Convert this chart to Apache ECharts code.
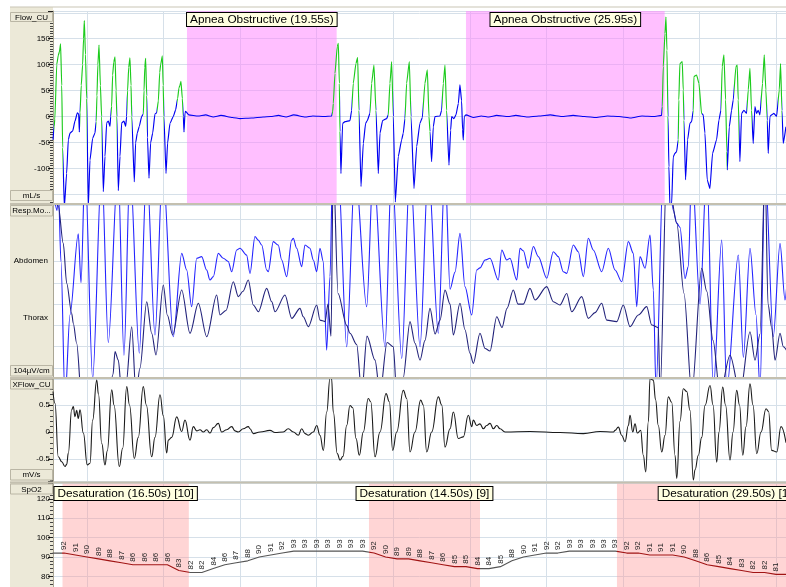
<!DOCTYPE html>
<html><head><meta charset="utf-8">
<script src="https://cdn.jsdelivr.net/npm/echarts@6/dist/echarts.min.js"></script>
<style>html,body{margin:0;padding:0;background:#fff}#c{width:786px;height:587px}</style>
</head><body><div id="c"></div>
<script>
// ---------------- DATA (time in seconds, grid lines every 10 s) ----------------
const flowPoints = [[-4.44,-45],[-4.3,-20],[-4.2,-5],[-3.95,100],[-3.75,118],[-3.6,125],[-3.45,140],[-3.3,60],[-3.18,-60],[-2.96,-175],[-2.66,-110],[-2.44,-45],[-2.22,-32],[-1.87,-28],[-1.57,-9],[-1.26,7],[-1.09,5],[-1.0,-30],[-0.91,7],
[-0.75,60],[-0.57,100],[-0.45,150],[-0.35,185],[-0.2,120],[-0.04,35],[0.17,-175],[0.39,-84],[0.74,-42],[1.04,-32],
[1.2,-10],[1.3,40],[1.42,100],[1.57,138],[1.75,60],[1.91,0],[2.13,-145],[2.35,-77],[2.57,-12],[2.79,-9],[3.0,-19],[3.1,0],
[3.22,20],[3.35,80],[3.5,105],[3.66,115],[3.8,50],[3.9,0],[4.09,-143],[4.31,-77],[4.53,-12],[4.83,-9],[5.05,-19],[5.18,0],
[5.3,50],[5.45,95],[5.61,113],[5.75,60],[5.85,0],[6.18,-126],[6.35,-51],[6.57,-32],[6.83,-19],[7.14,0],[7.36,5],
[7.45,50],[7.55,95],[7.66,112],[7.8,40],[7.9,-40],[8.1,-119],[8.31,-51],[8.58,-32],[8.88,5],[9.1,7],
[9.32,30],[9.5,85],[9.62,100],[9.84,117],[9.95,60],[10.05,0],[10.32,-110],[10.53,-51],[10.84,-13],[11.27,0],[11.58,13],
[11.84,35],[12.01,55],[12.14,60],[12.27,68],[12.45,35],[12.58,0],[12.67,-30],[12.8,7],[12.88,10],
[13.3,3],[14.5,1],[15.5,3],[16.5,-1],[17.5,2],[19,-2],[20,-4],[21.5,-3],[23,-1],[24,0],[25,2],[26,-1],[27,3],[28.5,-1],[29.5,1],[31,0],[31.96,1],
[32.09,10],[32.17,25],[32.39,83],[32.69,135],[32.83,141],[32.96,64],[33.04,-29],[33.17,-110],[33.39,-13],[33.7,-10],[34.35,-8],[34.57,12],[34.78,64],[35.13,102],[35.35,114],[35.52,12],[35.79,-135],[36.09,-52],[36.39,-13],[36.61,-8],[36.96,6],[37.18,64],[37.48,99],[37.74,12],[38.05,-110],[38.27,-32],[38.61,-8],[39.14,-4],[39.35,3],[39.57,64],[39.79,106],[40.01,0],[40.27,-165],[40.66,-77],[41.1,-45],[41.31,-32],[41.53,-4],[41.75,64],[42.1,106],[42.32,0],[42.71,-139],[43.06,-58],[43.49,-13],[43.8,-2],[44.14,64],[44.45,90],[44.67,0],[44.8,-29],[45.01,-87],[45.23,-20],[45.45,0],[46.1,1],[46.32,12],[46.54,64],[46.76,99],[46.97,12],[47.28,-94],[47.5,-26],[47.63,0],[47.93,-4],[48.19,3],[48.5,25],[48.71,61],[48.93,30],[49.06,-26],[49.15,-45],[49.28,0],[49.5,3],
[50.5,-2],[51.5,1],[52.5,-1],[53.5,2],[55,0],[56,2],[57.5,-1],[59,1],[60.5,3],[62,0],[63.5,2],[65,0],[66.5,-2],[68,1],[69.5,0],[71,-3],[72.5,1],[74,0],[75.05,2],
[75.14,19],[75.27,96],[75.49,160],[75.62,192],[75.75,128],[75.88,0],[76.01,-97],[76.14,-175],[76.36,-170],[76.57,-78],[76.79,-71],[77.01,-68],[77.23,-45],[77.3,32],[77.44,102],[77.75,106],[77.88,51],[77.97,-7],[78.18,-122],[78.45,-45],[78.75,-13],[78.97,-10],[79.19,12],[79.27,77],[79.62,80],[79.93,64],[80.27,6],[80.49,3],[80.71,-32],[81.01,-122],[81.36,-139],[81.71,-71],[82.23,-45],[82.54,-7],[82.8,12],[82.97,96],[83.19,119],[83.41,32],[83.58,-68],[83.63,-103],[83.89,-20],[84.19,12],[84.41,32],[84.76,96],[84.93,99],[85.06,32],[85.28,-87],[85.5,6],[85.8,12],[86.15,6],[86.37,51],[86.59,93],[86.8,12],[87.02,-52],[87.24,19],[87.46,6],[87.67,12],[87.89,3],[88.24,64],[88.46,119],[88.67,51],[88.85,-7],[88.98,-71],[89.2,0],[89.42,3],[89.72,6],[90.07,0],[90.42,51],[90.59,102],[90.77,12],[90.94,-52],[91.29,-20]];

const inspirations = [[-4.25,-3.15],[-0.95,-0.02],[1.15,1.92],[3.12,3.92],[5.2,5.87],[7.38,7.85],[9.2,10.06],[11.7,12.6],[32.05,33.05],[34.6,35.53],[36.98,37.75],[39.38,40.02],[41.56,42.33],[43.85,44.8],[46.35,46.98],[75.1,75.9],[77.25,77.98],[79.2,80.3],[82.82,83.6],[84.45,85.1],[86.2,86.82],[88.0,88.86],[90.25,90.8]];

const abdomenPoints = [[-4.44,8.5],[-3.92,7.4],[-3.72,8.2],[-3.4,5],[-2.87,-1.5],[-2.22,2.5],[-1.14,6.3],[-0.78,4.0],[-0.26,9.5],[0.74,-0.5],[1.92,9.5],[2.78,1.2],[4.05,9.5],[4.83,0.6],[5.62,9.5],[6.83,0.7],[7.8,9.5],[8.88,1.55],[9.89,9.5],[11.27,1.47],[12.37,5.38],[13.02,4.6],[13.67,2.88],[14.33,5.15],[14.98,5.23],[15.63,4.6],[16.06,4.13],[16.5,4.29],[17.15,5.38],[17.8,5.15],[18.45,5.0],[18.9,4.52],[19.55,5.54],[19.98,5.62],[20.85,5.3],[21.29,4.44],[21.94,6.17],[22.37,6.0],[22.82,5.77],[23.47,4.6],[23.68,4.52],[24.33,5.93],[24.98,5.77],[25.43,5.07],[26.08,4.29],[26.73,6.0],[26.94,6.09],[27.39,5.62],[28.04,4.76],[28.47,5.77],[29.12,5.62],[29.56,5.07],[30.0,4.52],[30.43,5.62],[30.86,5.0],[31.3,0.84],[31.74,4.29],[32.09,9.5],[32.79,9.5],[33.92,1.0],[35.01,9.5],[36.53,2.88],[37.4,9.5],[38.92,1.0],[39.8,9.5],[41.11,0.45],[42.19,9.5],[43.5,1.0],[44.58,9.5],[45.89,1.63],[46.76,9.5],[47.42,3.7],[48.07,4.5],[48.72,6.32],[49.37,3.82],[50.25,2.49],[50.9,4.6],[51.33,4.7],[51.99,5.07],[52.64,5.15],[53.72,4.13],[54.17,5.54],[54.82,5.07],[55.25,5.15],[56.13,4.13],[56.56,5.62],[56.99,5.5],[57.64,4.68],[58.3,5.7],[58.95,5.23],[60.05,4.21],[60.91,5.46],[61.56,5.23],[62.21,4.52],[62.66,4.44],[63.52,5.77],[64.17,5.46],[64.83,4.29],[65.48,6.09],[66.13,5.54],[67.23,4.52],[68.09,5.62],[68.97,4.6],[69.84,4.05],[70.71,5.93],[71.36,5.38],[71.8,2.88],[72.23,5.23],[72.89,4.68],[73.54,6.24],[73.97,3.66],[74.32,-1],[75.28,9.5],[75.89,9.5],[76.58,7.4],[77.03,6.8],[77.46,6.6],[78.11,4.2],[78.54,4.76],[78.99,9.5],[80.07,3.0],[80.95,9.5],[81.81,-1],[82.9,6.0],[83.56,-1],[85.07,5.3],[85.73,0.5],[86.6,5.62],[87.38,2.5],[87.91,-1],[88.56,9.5],[89.64,1.47],[90.52,5.85],[91.17,3.19],[91.43,4.0]];

const thoraxPoints = [[-4.44,8.5],[-3.75,7.6],[-3.1,5.85],[-2.65,3.98],[-2.0,2.57],[-1.79,2.1],[-1.35,1.16],[-0.69,-1.5],[0.13,-3],[1.7,-3],[2.74,-1.5],[3.4,-0.3],[3.66,0.77],[4.09,0.37],[4.53,-1.2],[5.09,-0.8],[5.84,1.94],[6.4,-1.2],[6.92,0],[7.8,3.11],[8.45,1.63],[9.01,0.61],[9.97,3.9],[10.49,2.49],[11.19,1.55],[12.37,3.66],[13.45,1.63],[14.54,3.04],[15.64,1.47],[16.94,3.43],[17.37,2.49],[18.16,2.7],[19.11,4.05],[19.76,3.35],[20.38,3.6],[21.07,4.13],[21.72,2.96],[22.38,2.64],[23.47,3.74],[24.13,3.11],[24.56,2.64],[25.86,3.43],[26.74,2.33],[27.82,2.8],[28.25,2.41],[28.91,1.94],[30.0,2.96],[30.43,2.25],[31.09,2.18],[31.48,3.0],[31.87,1.5],[32.17,9.5],[32.79,3.5],[33.92,2.0],[34.35,1.63],[35.23,1.1],[35.88,-1.2],[36.57,1.5],[37.62,0.37],[38.27,-1.2],[39.19,1.2],[40.01,1.0],[40.45,-1.2],[41.28,-0.5],[42.19,2.18],[42.84,1.16],[43.5,0.37],[44.15,1.3],[44.8,2.8],[45.46,1.6],[46.11,2.25],[46.76,3.66],[47.42,3.0],[47.85,1.55],[48.72,3.04],[49.37,1.8],[50.03,0.69],[50.46,0.22],[51.33,1.63],[51.99,0.92],[52.64,0.8],[53.52,2.41],[54.21,1.9],[54.86,2.8],[55.68,3.66],[56.3,3.0],[56.99,3.0],[57.86,3.74],[58.52,3.19],[60.05,3.82],[60.91,3.11],[61.78,2.96],[62.66,3.5],[63.31,2.64],[64.62,3.35],[65.48,2.33],[66.35,2.6],[67.23,3.04],[67.88,2.25],[69.19,2.18],[70.05,2.96],[70.93,1.94],[72.01,2.49],[73.11,2.88],[73.76,2.02],[74.62,1.9],[74.85,-1.2],[75.72,9.5],[77.03,6.8],[77.98,3.5],[78.99,-1.2],[80.29,4.68],[80.95,3.6],[81.77,1.3],[82.68,-1.2],[83.99,0.6],[85.3,-1.2],[86.6,1.7],[87.25,0.37],[87.91,1.6],[88.56,9.5],[88.95,3.0],[89.43,1.9],[89.87,0.37],[90.52,1.63],[90.95,1.0],[91.43,0.8]];

const xflowPoints = [[-4.44,0.75],[-4.18,0.53],[-3.75,-0.46],[-3.3,-0.55],[-2.87,-0.64],[-2.65,-0.6],[-2.44,-0.39],[-2.0,0.41],[-1.79,0.47],[-1.57,0.285],[-1.35,0.4],[-1.14,0.25],[-0.91,0.41],[-0.48,-0.02],[0.04,-0.61],[0.39,-0.58],[0.74,0.22],[1.27,0.96],[1.5,0.7],[1.92,-0.21],[2.35,-0.61],[2.65,-0.35],[3.23,0.78],[3.53,0.5],[4.22,-0.64],[4.66,-0.3],[5.19,0.84],[5.55,0.5],[6.18,-0.49],[6.7,-0.1],[7.35,0.84],[7.75,0.5],[8.45,-0.46],[8.88,-0.1],[9.54,0.69],[9.97,0.3],[10.41,-0.39],[10.62,-0.15],[11.06,-0.1],[11.72,0.28],[12.37,0.01],[12.8,0.22],[13.45,-0.15],[13.89,0.1],[14.33,0.02],[14.76,0.04],[15.19,0.0],[15.64,0.04],[16.07,-0.02],[16.5,0.08],[17.15,0.16],[17.59,0.0],[18.25,0.04],[18.9,0.1],[19.33,0.02],[19.76,0.0],[20.42,0.06],[21.07,0.1],[21.29,0.06],[21.72,-0.03],[22.6,0.0],[23.9,0.03],[24.56,-0.01],[25.64,0.0],[26.29,0.06],[26.95,0.0],[27.6,-0.06],[28.04,0.06],[28.48,-0.03],[28.91,-0.06],[29.56,0.0],[30.0,0.12],[30.43,-0.06],[30.87,-0.34],[31.31,0.37],[31.74,0.99],[31.94,1.0],[32.17,0.37],[32.69,-0.4],[33.05,-0.52],[33.44,-0.45],[33.92,0.12],[34.35,0.49],[34.71,0.45],[35.14,-0.12],[35.57,-0.43],[36.09,0.0],[36.74,0.62],[37.06,0.56],[37.62,-0.46],[38.27,0.0],[39.06,0.71],[39.49,0.56],[39.93,-0.34],[40.45,0.0],[41.32,0.77],[41.76,0.62],[42.19,-0.37],[42.84,0.0],[43.59,0.59],[43.93,0.5],[44.37,-0.37],[45.02,0.0],[45.89,0.65],[46.33,0.5],[46.76,-0.28],[47.42,0.06],[47.85,0.37],[48.5,-0.12],[49.15,-0.09],[49.81,0.31],[50.25,0.1],[50.46,0.22],[50.9,0.12],[51.33,0.15],[51.76,0.06],[52.21,0.12],[52.64,0.16],[53.07,0.06],[53.52,0.12],[53.95,0.06],[54.6,0.0],[57.86,0.01],[61.78,-0.01],[64.83,-0.03],[67.01,0.01],[68.75,0.0],[68.97,0.03],[69.4,0.09],[69.84,-0.06],[70.27,-0.18],[70.71,0.12],[70.93,0.31],[71.28,0.0],[71.58,0.15],[71.88,-0.02],[72.32,0.03],[72.66,-0.43],[72.98,-0.74],[73.32,0.19],[73.54,0.99],[73.97,0.96],[74.26,0.6],[74.62,0.12],[75.07,-0.37],[75.5,-0.06],[75.93,0.65],[76.37,0.55],[76.8,-0.43],[77.03,-0.86],[77.46,0.2],[77.89,0.8],[78.33,0.75],[78.76,0.4],[79.19,-0.89],[79.42,-0.7],[79.85,-0.43],[80.29,-0.1],[80.72,0.49],[81.38,0.86],[81.77,0.5],[82.25,-0.56],[82.55,0.0],[83.03,0.83],[83.4,0.5],[83.99,-0.52],[84.38,0.0],[84.86,0.77],[85.23,0.5],[85.65,-0.43],[86.08,0.1],[86.6,0.89],[86.99,0.5],[87.48,-0.4],[88.04,0.0],[88.69,0.43],[89.02,0.38],[89.43,-0.34],[90.09,-0.37],[90.65,0.1],[91.3,-0.2]];

const spo2Start = -4.5;
const spo2Step = 1.5;
const spo2Values = [92,92,91,90,89,88,87,86,86,86,86,83,82,82,84,86,87,88,90,91,92,93,93,93,93,93,93,93,92,90,89,89,88,87,86,85,85,84,84,85,88,90,91,92,92,93,93,93,93,93,92,92,91,91,91,90,88,86,85,84,83,82,82,81,81];

const apneaStarts = [13.06, 49.5];
const apneaDurations = [19.55, 25.95];
const desatStarts = [-3.2, 36.83, 69.22];
const desatDurations = [16.5, 14.5, 29.5];
const desatDrops = [10, 9, 12];

const flowTickLabels = [-100, -50, 0, 50, 100, 150];
const xflowTickLabels = [-0.5, 0, 0.5];
const spo2TickLabels = [80, 90, 100, 110, 120];

// ---------------- LAYOUT / STYLE ----------------
const FONT = "'Liberation Sans', Arial, sans-serif";
const GRIDC = '#D6E0E9';
const X_MIN = -4.44, X_MAX = 91.3;
const grids = [
  {left:53, right:0, top:11, height:192},
  {left:53, right:0, top:205, height:172},
  {left:53, right:0, top:379, height:102.5},
  {left:53, right:0, top:483.5, height:103.5}
];
const yCfg = [
  {min:-166.9, max:203.5, step:50, labels:flowTickLabels, minor:10, ticks:true},
  {min:-0.42, max:7.65, step:1, labels:[], minor:5, ticks:false},
  {min:-0.917, max:0.981, step:0.5, labels:xflowTickLabels, minor:5, ticks:true},
  {min:74.5, max:127.9, step:10, labels:spo2TickLabels, minor:5, ticks:true}
];

function labelFilter(list){
  return v => list.some(l => Math.abs(l - v) < 1e-6) ? String(v) : '';
}

const boxLabel = {show:true, position:'bottom', color:'#000', fontFamily:FONT, fontSize:11.8, lineHeight:12,
  backgroundColor:'#FFFFE1', borderColor:'#000', borderWidth:1, padding:[1,3,0,3]};

const chart = echarts.init(document.getElementById('c'), null, {renderer:'canvas', width:786, height:587});

const labelBoxes = [['Flow_CU',12,22],['mL/s',190,201],['Resp.Mo...',205,216.5],['104\u00b5V/cm',365,376.5],['XFlow_CU',379,389.5],['mV/s',469,480.5],['SpO2',483.5,494.5]];
const graphics = [
  {type:'rect', z:-10, silent:true, shape:{x:10,y:7,width:43,height:580}, style:{fill:'#ECE9D8'}},
  {type:'rect', z:60, silent:true, shape:{x:10,y:6.5,width:776,height:1}, style:{fill:'#C9C5B5'}}
];
[[203,2],[377,2],[481.5,2]].forEach(([y,h]) => graphics.push({type:'rect', z:60, silent:true, shape:{x:10,y:y,width:776,height:h}, style:{fill:'#C4C0B0'}}));
labelBoxes.forEach(([t,y1,y2]) => {
  graphics.push({type:'rect', z:70, silent:true, shape:{x:10.5,y:y1+0.5,width:42,height:y2-y1-1}, style:{fill:'#ECE9D8', stroke:'#BAB6A5', lineWidth:1}});
  graphics.push({type:'text', z:71, silent:true, style:{text:t, x:31.5, y:(y1+y2)/2+0.5, align:'center', verticalAlign:'middle', textAlign:'center', textVerticalAlign:'middle', font:'8px ' + FONT, fill:'#000'}});
});
[['Abdomen',261],['Thorax',318]].forEach(([t,y]) => graphics.push({type:'text', z:71, silent:true, style:{text:t, x:48, y:y, align:'right', verticalAlign:'middle', textAlign:'right', textVerticalAlign:'middle', font:'8px ' + FONT, fill:'#000'}}));

const option = {
  animation:false,
  backgroundColor:'#fff',
  grid: grids,
  xAxis: grids.map((g,i) => ({type:'value', gridIndex:i, min:X_MIN, max:X_MAX, minInterval:10, maxInterval:10,
    axisLine:{show:false}, axisTick:{show:false}, axisLabel:{show:false},
    splitLine:{show:true, lineStyle:{color:GRIDC, width:1}}})),
  yAxis: yCfg.map((c,i) => ({type:'value', gridIndex:i, min:c.min, max:c.max, minInterval:c.step, maxInterval:c.step,
    axisLine:{show:true, onZero:false, lineStyle:{color:'#A9A594'}},
    axisTick:{show:c.ticks, length:5, lineStyle:{color:'#222'}},
    minorTick:{show:c.ticks, splitNumber:c.minor, length:3, lineStyle:{color:'#444'}},
    axisLabel:{show:c.ticks, formatter:labelFilter(c.labels), fontSize:8, fontFamily:FONT, color:'#000', margin:3},
    splitLine:{show:true, lineStyle:{color:GRIDC, width:1}}})),
  visualMap: [
    {type:'piecewise', show:false, seriesIndex:0, dimension:0,
      pieces: inspirations.map(([a,b]) => ({gte:a, lte:b, color:'#1CCB1C'})), outOfRange:{color:'#0000F2'}},
    {type:'piecewise', show:false, seriesIndex:4, dimension:0,
      pieces: desatStarts.map((s,i) => ({gte:s, lte:s+desatDurations[i], color:'#A01414'})), outOfRange:{color:'#555555'}}
  ],
  series: [
    {type:'line', name:'Flow_CU', xAxisIndex:0, yAxisIndex:0, data:flowPoints, showSymbol:false, silent:true,
      smooth:0.15, smoothMonotone:'x', lineStyle:{width:1.15},
      markArea:{silent:true, itemStyle:{color:'rgba(255,128,255,0.5)'},
        data: apneaStarts.map((s,i) => [{xAxis:s},{xAxis:s+apneaDurations[i]}])},
      markPoint:{silent:true, symbol:'circle', symbolSize:0,
        label:Object.assign({}, boxLabel, {distance:2}),
        data: apneaStarts.map((s,i) => ({coord:[s+apneaDurations[i]/2, yCfg[0].max],
          label:{formatter:'Apnea Obstructive (' + apneaDurations[i].toFixed(2) + 's)'}}))}},
    {type:'line', name:'Abdomen', xAxisIndex:1, yAxisIndex:1, data:abdomenPoints, showSymbol:false, silent:true,
      smooth:0.3, smoothMonotone:'x', lineStyle:{width:1.1, color:'#2424FF'}, itemStyle:{color:'#2424FF'}},
    {type:'line', name:'Thorax', xAxisIndex:1, yAxisIndex:1, data:thoraxPoints, showSymbol:false, silent:true,
      smooth:0.3, smoothMonotone:'x', lineStyle:{width:1.1, color:'#22227A'}, itemStyle:{color:'#22227A'}},
    {type:'line', name:'XFlow_CU', xAxisIndex:2, yAxisIndex:2, data:xflowPoints, showSymbol:false, silent:true,
      smooth:0.45, smoothMonotone:'x', lineStyle:{width:1.1, color:'#1a1a1a'}, itemStyle:{color:'#1a1a1a'}},
    {type:'line', name:'SpO2', xAxisIndex:3, yAxisIndex:3, silent:true,
      data: spo2Values.map((v,i) => [spo2Start + i*spo2Step, v]),
      symbol:'circle', symbolSize:0, showSymbol:true, lineStyle:{width:1.1},
      label:{show:true, position:'top', distance:3, rotate:90, align:'left', verticalAlign:'middle',
        fontSize:8, fontFamily:FONT, color:'#222', formatter:p => p.value[1]},
      markArea:{silent:true, itemStyle:{color:'rgba(255,150,150,0.4)'},
        data: desatStarts.map((s,i) => [{xAxis:s},{xAxis:s+desatDurations[i]}])},
      markPoint:{silent:true, symbol:'circle', symbolSize:0,
        label:Object.assign({}, boxLabel, {distance:3.5}),
        data: desatStarts.map((s,i) => ({coord:[s+desatDurations[i]/2, yCfg[3].max],
          label:{formatter:'Desaturation (' + desatDurations[i].toFixed(2) + 's) [' + desatDrops[i] + ']'}}))}}
  ],
  graphic: graphics
};
chart.setOption(option);
</script></body></html>
